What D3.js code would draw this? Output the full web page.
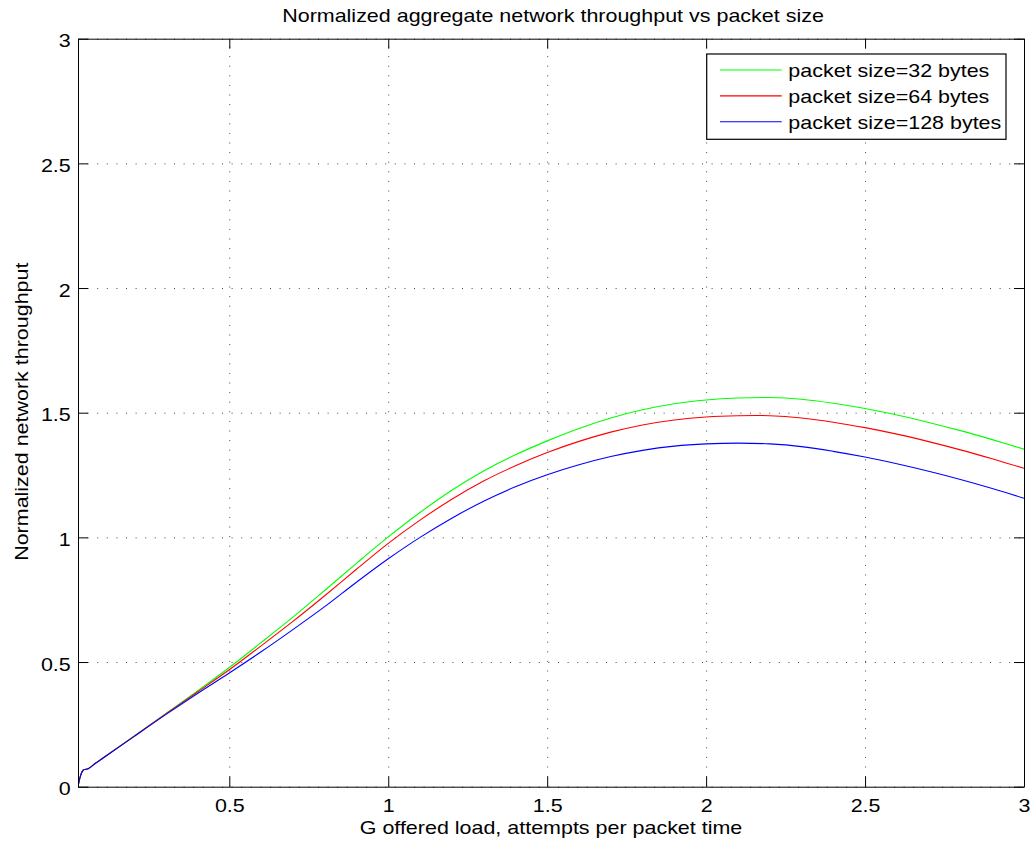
<!DOCTYPE html>
<html><head><meta charset="utf-8">
<script src="https://cdn.jsdelivr.net/npm/d3@7"></script>
<style>
body{margin:0;background:#fff}
text{font-family:"Liberation Sans",Arial,Helvetica,sans-serif;fill:#000}
</style>
</head><body>
<svg id="chart" width="1032" height="845"></svg>
<script>
// ---- data ----
const G = [0.024, 0.04, 0.056, 0.08, 0.1, 0.2, 0.3, 0.4, 0.5, 0.6, 0.7, 0.8, 0.9, 1.0, 1.1, 1.2, 1.3, 1.4, 1.5, 1.6, 1.7, 1.8, 1.9, 2.0, 2.1, 2.2, 2.3, 2.4, 2.5, 2.6, 2.7, 2.8, 2.9, 3.0];
const s32  = [0.0, 0.066, 0.072, 0.095, 0.113, 0.203, 0.293, 0.384, 0.478, 0.578, 0.680, 0.787, 0.896, 1.002, 1.100, 1.189, 1.266, 1.331, 1.387, 1.437, 1.479, 1.512, 1.536, 1.551, 1.559, 1.561, 1.554, 1.538, 1.517, 1.491, 1.461, 1.428, 1.392, 1.354];
const s64  = [0.0, 0.066, 0.072, 0.095, 0.113, 0.202, 0.292, 0.380, 0.469, 0.565, 0.663, 0.766, 0.872, 0.976, 1.069, 1.153, 1.226, 1.287, 1.340, 1.385, 1.422, 1.451, 1.471, 1.483, 1.488, 1.488, 1.479, 1.462, 1.440, 1.414, 1.384, 1.351, 1.315, 1.277];
const s128 = [0.0, 0.066, 0.072, 0.095, 0.112, 0.201, 0.289, 0.374, 0.456, 0.541, 0.630, 0.722, 0.820, 0.914, 1.000, 1.077, 1.145, 1.203, 1.251, 1.291, 1.324, 1.349, 1.366, 1.375, 1.378, 1.375, 1.364, 1.345, 1.322, 1.295, 1.265, 1.232, 1.196, 1.157];
const seriesNames = ["packet size=32 bytes", "packet size=64 bytes", "packet size=128 bytes"];
const seriesColors = ["#00ff00", "#ff0000", "#0000ff"];
const xTicks = [0.5, 1, 1.5, 2, 2.5, 3];
const xTickLabels = ["0.5", "1", "1.5", "2", "2.5", "3"];
const yTicks = [0, 0.5, 1, 1.5, 2, 2.5, 3];
const yTickLabels = ["0", "0.5", "1", "1.5", "2", "2.5", "3"];
const titleText = "Normalized aggregate network throughput vs packet size";
const xLabelText = "G offered load, attempts per packet time";
const yLabelText = "Normalized network throughput";

// ---- layout ----
const L = 78, R = 1024, T = 38.7, B = 786.7;
const FS = 19, SX = 1.13;
const svg = d3.select("#chart");

const x = d3.scaleLinear().domain([0.024, 3]).range([L, R]);
const y = d3.scaleLinear().domain([0, 3]).range([B, T]);

// grid
const gridStyle = g => g.selectAll("line").attr("stroke", "#444").attr("stroke-width", 1).attr("stroke-dasharray", "1,8.6");
const gx = svg.append("g").attr("transform", `translate(0,${B})`)
  .call(d3.axisBottom(x).tickValues(xTicks).tickSize(-(B - T)).tickFormat(""));
gx.select(".domain").remove(); gridStyle(gx);
const gy = svg.append("g").attr("transform", `translate(${L},0)`)
  .call(d3.axisLeft(y).tickValues(yTicks).tickSize(-(R - L)).tickFormat(""));
gy.select(".domain").remove(); gridStyle(gy);

// lines
const series = [s32, s64, s128];
svg.append("clipPath").attr("id", "clip").append("rect")
  .attr("x", L).attr("y", T).attr("width", R - L).attr("height", B - T);
const line = d3.line().x((d, i) => x(G[i])).y(d => y(d)).curve(d3.curveCatmullRom.alpha(0.5));
series.forEach((s, k) => {
  svg.append("path").attr("d", line(s)).attr("fill", "none")
    .attr("stroke", seriesColors[k]).attr("stroke-width", 1.1)
    .attr("clip-path", "url(#clip)");
});

// axes with inward ticks (box)
const TK = 10;
function styleAxis(g) {
  g.selectAll(".domain").attr("stroke", "#000").attr("stroke-width", 1);
  g.selectAll(".tick line").attr("stroke", "#000").attr("stroke-width", 1);
  g.selectAll("text").attr("font-size", FS).attr("fill", "#000")
    .attr("font-family", '"Liberation Sans",Arial,sans-serif')
    .attr("transform", `scale(${SX},1)`);
}
const xb = svg.append("g").attr("transform", `translate(0,${B})`)
  .call(d3.axisBottom(x).tickValues(xTicks).tickSizeInner(-TK).tickSizeOuter(0).tickPadding(11.5)
    .tickFormat((d, i) => xTickLabels[i]));
styleAxis(xb);
const xt = svg.append("g").attr("transform", `translate(0,${T})`)
  .call(d3.axisTop(x).tickValues(xTicks).tickSizeInner(-TK).tickSizeOuter(0).tickFormat(""));
styleAxis(xt);
const yl = svg.append("g").attr("transform", `translate(${L},0)`)
  .call(d3.axisLeft(y).tickValues(yTicks).tickSizeInner(-TK).tickSizeOuter(0).tickPadding(6.4)
    .tickFormat((d, i) => yTickLabels[i]));
styleAxis(yl);
yl.selectAll("text").attr("dy", "0.43em");
const yr = svg.append("g").attr("transform", `translate(${R},0)`)
  .call(d3.axisRight(y).tickValues(yTicks).tickSizeInner(-TK).tickSizeOuter(0).tickFormat(""));
styleAxis(yr);

// texts
function stretchedText(px, py, rot, str, anchor) {
  svg.append("text")
    .attr("transform", `translate(${px},${py}) rotate(${rot}) scale(${SX},1)`)
    .attr("text-anchor", anchor).attr("font-size", FS).text(str);
}
stretchedText((L + R) / 2 + 2, 22, 0, titleText, "middle");
stretchedText((L + R) / 2, 834, 0, xLabelText, "middle");
stretchedText(28, (T + B) / 2 - 1, -90, yLabelText, "middle");

// legend
const lg = svg.append("g");
lg.append("rect").attr("x", 706.7).attr("y", 54).attr("width", 1006 - 706.7).attr("height", 139.3 - 54)
  .attr("fill", "#fff").attr("stroke", "#000").attr("stroke-width", 1.2);
const rowY = d3.scalePoint().domain(seriesNames).range([70, 121.7]);
seriesNames.forEach((n, k) => {
  const ry = rowY(n);
  lg.append("line").attr("x1", 720).attr("x2", 781.7).attr("y1", ry).attr("y2", ry)
    .attr("stroke", seriesColors[k]).attr("stroke-width", 1.1);
  lg.append("text").attr("transform", `translate(788.3,${ry + 7.3}) scale(${SX},1)`)
    .attr("font-size", FS).text(n);
});
</script>
</body></html>
